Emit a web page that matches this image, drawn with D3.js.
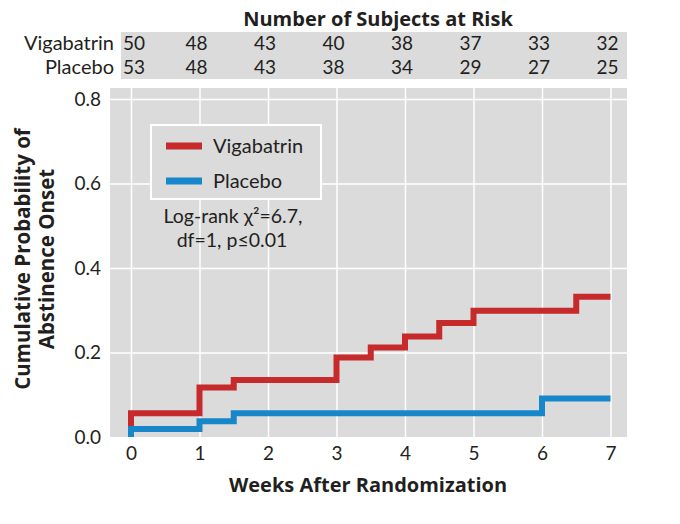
<!DOCTYPE html>
<html>
<head>
<meta charset="utf-8">
<script src="https://cdn.jsdelivr.net/npm/d3@7"></script>
<style>
  body { margin: 0; background: white; }
  text { font-family: Lato, "Open Sans", sans-serif; fill: #231f20; }
  .bold { font-family: "Open Sans", Lato, sans-serif; font-weight: bold; }
</style>
</head>
<body>
<script>
// values
const weeks = [0, 1, 2, 3, 4, 5, 6, 7];
const yTicks = [0.0, 0.2, 0.4, 0.6, 0.8];
const vigabatrinAtRisk = [50, 48, 43, 40, 38, 37, 33, 32];
const placeboAtRisk = [53, 48, 43, 38, 34, 29, 27, 25];
const vigabatrinTimes = [0, 0, 1, 1.5, 3, 3.5, 4, 4.5, 5, 6.5, 7];
const vigabatrinProb = [0, 0.056, 0.117, 0.135, 0.188, 0.212, 0.238, 0.270, 0.299, 0.332, 0.332];
const placeboTimes = [0, 0, 1, 1.5, 6, 7];
const placeboProb = [0, 0.019, 0.037, 0.056, 0.091, 0.091];
const seriesNames = ['Vigabatrin', 'Placebo'];

let width, height, svg, xScale, yScale, plotLeft, plotRight, plotTop, plotBottom, red, blue, bg;
width = 680;
height = 524;
plotLeft = 110;
plotRight = 627;
plotTop = 88;
plotBottom = 437;
red = '#c62a2a';
blue = '#1787c9';
bg = '#dbdbdc';

svg = d3.select('body')
        .append('svg')
        .attr('width', width)
        .attr('height', height)

xScale = d3.scaleLinear().domain([0, 7]).range([131, 610.5]);
yScale = d3.scaleLinear().domain([0, 0.8]).range([437, 99]);

const genTable = () => {
    svg.append('text')
        .attr('class', 'bold')
        .attr('x', 378).attr('y', 26)
        .attr('text-anchor', 'middle')
        .style('font-size', '20px')
        .text('Number of Subjects at Risk')
    svg.append('rect')
        .attr('x', 121).attr('y', 32)
        .attr('width', plotRight - 121).attr('height', 47)
        .style('fill', bg)
    const rows = [vigabatrinAtRisk, placeboAtRisk];
    rows.forEach((row, r) => {
        const yy = 50 + r * 24;
        svg.append('text')
            .attr('x', 114).attr('y', yy)
            .attr('text-anchor', 'end')
            .style('font-size', '20px')
            .text(seriesNames[r])
        svg.selectAll('.risk' + r)
            .data(row)
            .enter()
            .append('text')
            .attr('class', 'risk' + r)
            .attr('x', (d, i) => i == 0 ? 123 : xScale(weeks[i]) - 3)
            .attr('y', yy)
            .attr('text-anchor', (d, i) => i == 0 ? 'start' : 'middle')
            .style('font-size', '19px')
            .text(d => d)
    })
}

const genAxis = () => {
    svg.append('rect')
        .attr('x', plotLeft).attr('y', plotTop)
        .attr('width', plotRight - plotLeft).attr('height', plotBottom - plotTop)
        .style('fill', bg)

    let xAxis = d3.axisBottom(xScale).tickValues(weeks)
        .tickSize(-(plotBottom - plotTop)).tickPadding(10).tickFormat(d3.format('d'))
    let gx = svg.append('g')
        .attr('transform', 'translate(0,' + plotBottom + ')')
        .call(xAxis)
    gx.select('.domain').remove()
    gx.selectAll('line').style('stroke', 'white').style('stroke-width', 1.5)
    gx.selectAll('text').style('font-size', '19px').style('font-family', 'Lato').style('fill', '#231f20')

    let yAxis = d3.axisLeft(yScale).tickValues(yTicks)
        .tickSize(-(plotRight - plotLeft)).tickPadding(9).tickFormat(d3.format('.1f'))
    let gy = svg.append('g')
        .attr('transform', 'translate(' + plotLeft + ',0)')
        .call(yAxis)
    gy.select('.domain').remove()
    gy.selectAll('line').style('stroke', 'white').style('stroke-width', 1.5)
        .style('visibility', d => d == 0 ? 'hidden' : 'visible')
    gy.selectAll('text').style('font-size', '19px').style('font-family', 'Lato').style('fill', '#231f20')

    svg.append('text')
        .attr('class', 'bold')
        .attr('x', 368).attr('y', 492)
        .attr('text-anchor', 'middle')
        .style('font-size', '20px')
        .text('Weeks After Randomization')
    let yt = svg.append('text')
        .attr('class', 'bold')
        .attr('transform', 'translate(30,259) rotate(-90)')
        .attr('text-anchor', 'middle')
        .style('font-size', '20.5px')
    yt.append('tspan').attr('x', 0).attr('y', 0).text('Cumulative Probability of')
    yt.append('tspan').attr('x', 0).attr('y', 24).text('Abstinence Onset')
}

const genLines = () => {
    let line = d3.line()
        .x(d => xScale(d[0]))
        .y(d => yScale(d[1]))
        .curve(d3.curveStepAfter)
    let series = [
        { pts: vigabatrinTimes.map((t, i) => [t, vigabatrinProb[i]]), color: red },
        { pts: placeboTimes.map((t, i) => [t, placeboProb[i]]), color: blue }
    ]
    svg.selectAll('.km')
        .data(series)
        .enter()
        .append('path')
        .attr('class', 'km')
        .attr('d', d => line(d.pts))
        .style('fill', 'none')
        .style('stroke', d => d.color)
        .style('stroke-width', 6)
        .style('stroke-linejoin', 'miter')
}

const genLegend = () => {
    svg.append('rect')
        .attr('x', 151).attr('y', 125)
        .attr('width', 170).attr('height', 74)
        .style('fill', bg).style('stroke', 'white').style('stroke-width', 2)
    let colors = [red, blue];
    seriesNames.forEach((n, i) => {
        let yy = 146 + i * 35;
        svg.append('line')
            .attr('x1', 166).attr('x2', 202)
            .attr('y1', yy).attr('y2', yy)
            .style('stroke', colors[i]).style('stroke-width', 7)
        svg.append('text')
            .attr('x', 213).attr('y', yy + 7)
            .style('font-size', '20px')
            .text(n)
    })
    svg.append('text')
        .attr('x', 233).attr('y', 223)
        .attr('text-anchor', 'middle')
        .style('font-size', '19.5px')
        .text('Log-rank χ²=6.7,')
    svg.append('text')
        .attr('x', 232).attr('y', 247)
        .attr('text-anchor', 'middle')
        .style('font-size', '19.5px')
        .text('df=1, p≤0.01')
}

genTable();
genAxis();
genLines();
genLegend();
</script>
</body>
</html>
